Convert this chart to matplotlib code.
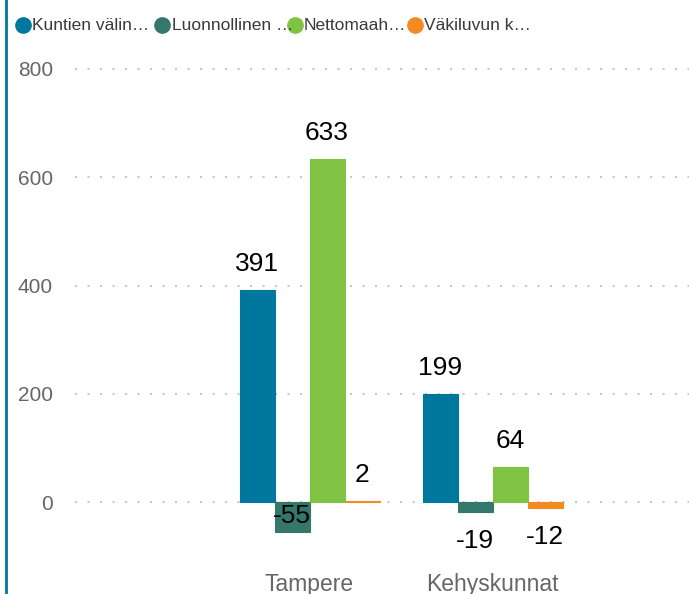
import matplotlib
matplotlib.use("Agg")
import matplotlib.pyplot as plt
import numpy as np
from matplotlib.lines import Line2D
from matplotlib import font_manager

plt.rcParams['font.family'] = ['Liberation Sans', 'DejaVu Sans']

categories = ["Tampere", "Kehyskunnat"]
series_names = ["Kuntien välin…", "Luonnollinen …", "Nettomaah…", "Väkiluvun k…"]
kuntien_valinen = [391, 199]
luonnollinen = [-55, -19]
nettomaahanmuutto = [633, 64]
vakiluvun_kasvu = [2, -12]
series_values = [kuntien_valinen, luonnollinen, nettomaahanmuutto, vakiluvun_kasvu]
colors = ["#00789E", "#35776A", "#80C342", "#F48A22"]
yticks = [0, 200, 400, 600, 800]

installed = {f.name for f in font_manager.fontManager.ttflist}
if 'Liberation Sans Narrow' in installed:
    legend_family = ['Liberation Sans Narrow', 'DejaVu Sans']
    legend_size = 14.5
else:
    legend_family = ['Liberation Sans', 'DejaVu Sans']
    legend_size = 12.5

W, H = 689, 594
fig = plt.figure(figsize=(W / 100, H / 100), dpi=100)

# axes placement (pixels)
ax_left, ax_right, ax_top, ax_bottom = 75, 689, 60, 560
ax = fig.add_axes([ax_left / W, 1 - ax_bottom / H, (ax_right - ax_left) / W, (ax_bottom - ax_top) / H])

px_per_unit = (502 - 69) / 800.0
ax.set_ylim(-(ax_bottom - 502) / px_per_unit, 800 + (69 - ax_top) / px_per_unit)
group_px = 183.0
ax.set_xlim(-(309.5 - ax_left) / group_px, (ax_right - 309.5) / group_px)

x = np.arange(len(categories))
bw = 35.0 / group_px
n = len(series_values)
for i, (vals, col) in enumerate(zip(series_values, colors)):
    offs = (i - (n - 1) / 2) * bw
    ax.bar(x + offs, vals, width=bw, color=col, edgecolor=col, linewidth=0.8, zorder=3)
    for xi, v in zip(x + offs, vals):
        if v >= 0:
            ax.annotate(str(v), (xi, v), xytext=(0, 10), textcoords='offset points',
                        ha='center', va='bottom', fontsize=19, color='black', zorder=4)
        else:
            end_px = 502 + abs(v) * px_per_unit
            if end_px + 40 > ax_bottom:
                ax.annotate(str(v), (xi, v), xytext=(0, 3), textcoords='offset points',
                            ha='center', va='bottom', fontsize=19, color='black', zorder=4)
            else:
                ax.annotate(str(v), (xi, v), xytext=(0, -12), textcoords='offset points',
                            ha='center', va='top', fontsize=19, color='black', zorder=4)

ax.set_yticks(yticks)
ax.set_yticklabels([str(t) for t in yticks])
ax.tick_params(axis='y', length=0, pad=16, labelsize=15, labelcolor='#666666')
ax.set_xticks(x)
ax.set_xticklabels(categories)
ax.tick_params(axis='x', length=0, pad=9, labelsize=16.5, labelcolor='#666666')
for s in ax.spines.values():
    s.set_visible(False)
ax.yaxis.grid(True, color='#C8C8C8', linewidth=1.5, linestyle=(0, (1, 5.0)), dash_capstyle='butt', zorder=0)
ax.set_axisbelow(True)

# left accent line
fig.add_artist(Line2D([5.5 / W, 5.5 / W], [0, 1], transform=fig.transFigure, color='#00789E', linewidth=2.0))

# legend
circle_x = [22.5, 162, 294.5, 414.5]
leg_y = 1 - 25 / H
for cx, name, col in zip(circle_x, series_names, colors):
    fig.add_artist(Line2D([cx / W], [leg_y], marker='o', markersize=11, color=col,
                          linestyle='none', transform=fig.transFigure))
    fig.text((cx + 9.5) / W, leg_y, name, fontsize=legend_size, family=legend_family,
             color='#3A3A3A', ha='left', va='center')

fig.savefig("out.png", dpi=100)
